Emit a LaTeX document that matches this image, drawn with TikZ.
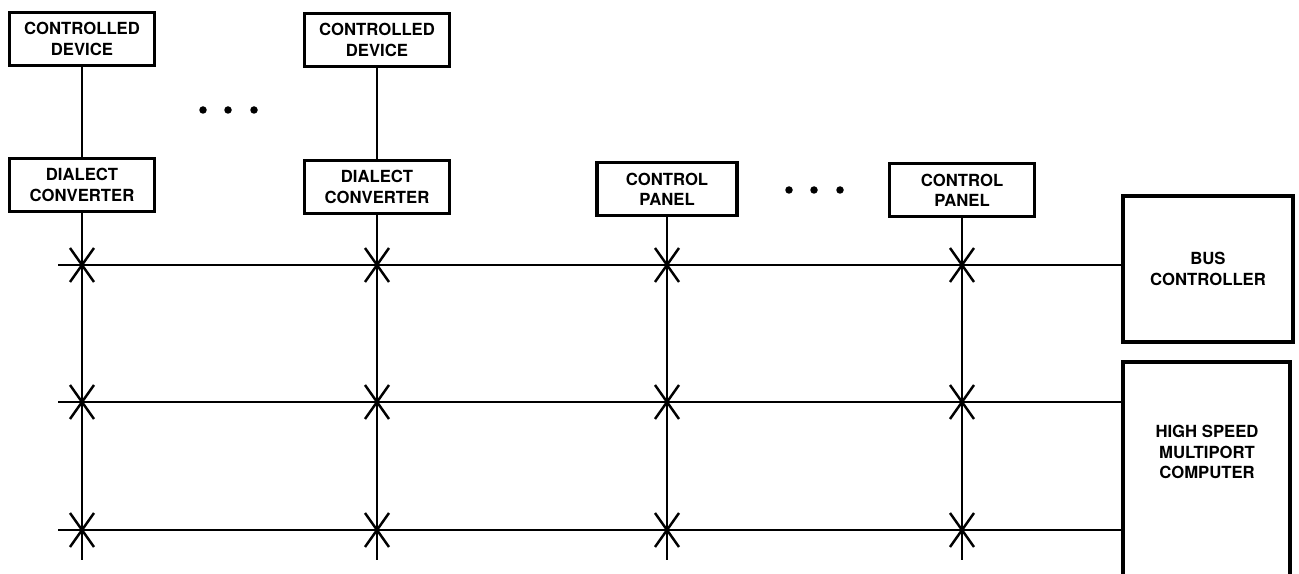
\documentclass[tikz,border=0pt]{standalone}
\usepackage{fontspec}
\setmainfont{TeX Gyre Heros}
\usetikzlibrary{positioning, calc}

\begin{document}
\begin{tikzpicture}[
    x=0.02cm, y=-0.02cm,
    font=\fontsize{9.5}{11.5}\selectfont\bfseries,
    every node/.style={align=center},
    unitbox/.style={
      draw, line width=1.8pt, inner sep=0pt,
      minimum width=2.9cm, minimum height=1.06cm,
    },
    bigbox/.style={
      unitbox, minimum width=3.4cm, minimum height=2.92cm,
    },
    wire/.style={line width=1.6pt},
    tap/.style={line width=1.4pt},
    dot/.style={fill=black},
  ]
    \useasboundingbox (0,0) rectangle (1299,574);

    \node[unitbox] (dev1) at (82,39) {CONTROLLED\\DEVICE};
    \node[unitbox] (dev2) at (377,40) {CONTROLLED\\DEVICE};

    \node[unitbox] (conv1) at (82,185) {DIALECT\\CONVERTER};
    \node[unitbox] (conv2) at (377,187) {DIALECT\\CONVERTER};

    \node[unitbox, minimum width=2.8cm] (pan1) at (667,189) {CONTROL\\PANEL};
    \node[unitbox] (pan2) at (962,190) {CONTROL\\PANEL};

    \node[bigbox] (busctl) at (1208,269) {BUS\\CONTROLLER};

    % open box, runs off the bottom edge
    \coordinate (compsw) at (1123,574);
    \coordinate (compne) at (1290,362);
    \draw[unitbox] (compsw) |- (compne) -- (compne |- compsw);
    \node (comp) at (1207,452) {HIGH SPEED\\MULTIPORT\\COMPUTER};

    \coordinate (floor) at (0,560);
    \coordinate (bus1) at (58,265);
    \coordinate (bus2) at (58,402);
    \coordinate (bus3) at (58,530);

    \draw[wire] (dev1) -- (conv1);
    \draw[wire] (dev2) -- (conv2);
    \foreach \c in {conv1,conv2,pan1,pan2}
      \draw[wire] (\c.south) -- (\c.south |- floor);

    \draw[wire] (bus1) -- (bus1 -| busctl.west);
    \draw[wire] (bus2) -- (bus2 -| compsw);
    \draw[wire] (bus3) -- (bus3 -| compsw);

    \foreach \c in {conv1,conv2,pan1,pan2}
      \foreach \b in {bus1,bus2,bus3}
        \draw[tap] (\c.south |- \b) +(-12,-17) -- +(12,17)
                                    +(-12,17) -- +(12,-17);

    \foreach \x in {203,228,254}
      \fill[dot] (\x,110) circle[radius=0.075cm];
    \foreach \x in {789,814,840}
      \fill[dot] (\x,190) circle[radius=0.075cm];
  \end{tikzpicture}
\end{document}
